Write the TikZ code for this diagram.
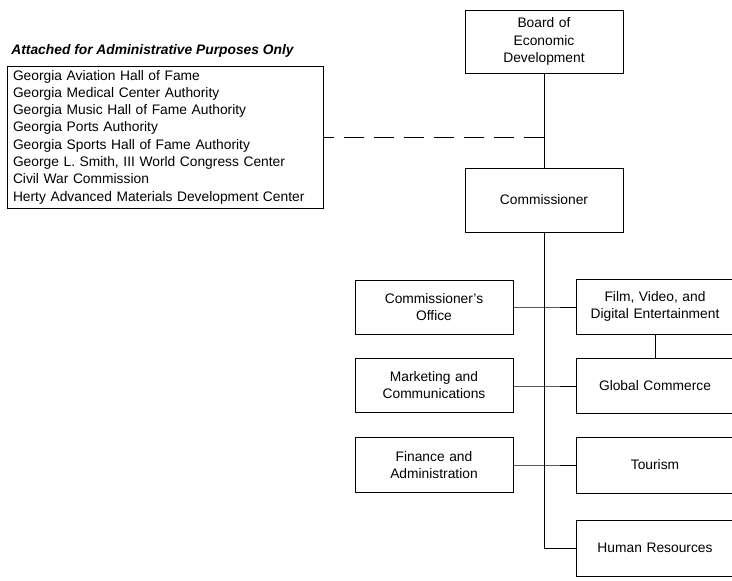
\documentclass[tikz,border=0pt]{standalone}
\usepackage{fontspec}
\setmainfont{Liberation Sans}
\begin{document}
\begin{tikzpicture}[x=1pt,y=-1pt,
  line width=0.8pt,
  every node/.style={font=\fontsize{13.8}{17.3}\selectfont, inner sep=0pt},
  orgbox/.style={draw, minimum width=158pt, align=center, text width=150pt},
  conn/.style={draw, line width=0.8pt},
  dashline/.style={draw, dash pattern=on 20pt off 10pt}]
\useasboundingbox (0,0) rectangle (732,581);
\clip (0,0) rectangle (732,581);
% title
\node[anchor=base west, font=\fontsize{13.8}{17.3}\selectfont\bfseries\itshape] (title) at (11,54) {Attached for Administrative Purposes Only};
% attached box
\node[draw, minimum width=316pt, minimum height=142pt, text width=304pt, inner xsep=6pt, align=left] (att) at (165,137)
{Georgia Aviation Hall of Fame\\
Georgia Medical Center Authority\\
Georgia Music Hall of Fame Authority\\
Georgia Ports Authority\\
Georgia Sports Hall of Fame Authority\\
George L. Smith, III World Congress Center\\
Civil War Commission\\
Herty Advanced Materials Development Center};
% top boxes
\node[orgbox, minimum height=63pt] (board) at (544,41.5) {Board of\\Economic\\Development};
\node[orgbox, minimum height=64pt] (comm) at (544,200) {Commissioner};
% left column
\node[orgbox, minimum height=54pt] (office) at (434,307) {Commissioner’s\\Office};
\node[orgbox, minimum height=54pt] (mkt) at (434,385) {Marketing and\\Communications};
\node[orgbox, minimum height=55pt] (fin) at (434,465) {Finance and\\Administration};
% right column
\node[orgbox, minimum height=55pt] (film) at (655,306.5) {Film, Video, and\\Digital Entertainment};
\node[orgbox, minimum height=55pt] (glob) at (655,385.5) {Global Commerce};
\node[orgbox, minimum height=56pt] (tour) at (655,465) {Tourism};
\node[orgbox, minimum height=56pt] (hr) at (655,548) {Human Resources};
% spine
\coordinate (dj) at (544,137);
\coordinate (j1) at (544,307);
\coordinate (j2) at (544,386);
\coordinate (j3) at (544,465);
\coordinate (j4) at (544,548);
\draw[conn] (board.south) -- (comm.north);
\draw[dashline] (dj) -- (att.east |- dj);
\draw[conn] (comm.south) -- (j4);
\draw[conn] (office.east |- j1) -- (j1) -- (film.west |- j1);
\draw[conn] (mkt.east |- j2) -- (j2) -- (glob.west |- j2);
\draw[conn] (fin.east |- j3) -- (j3) -- (tour.west |- j3);
\draw[conn] (j4) -- (hr.west |- j4);
\draw[conn] (film.south) -- (glob.north);
\end{tikzpicture}
\end{document}
